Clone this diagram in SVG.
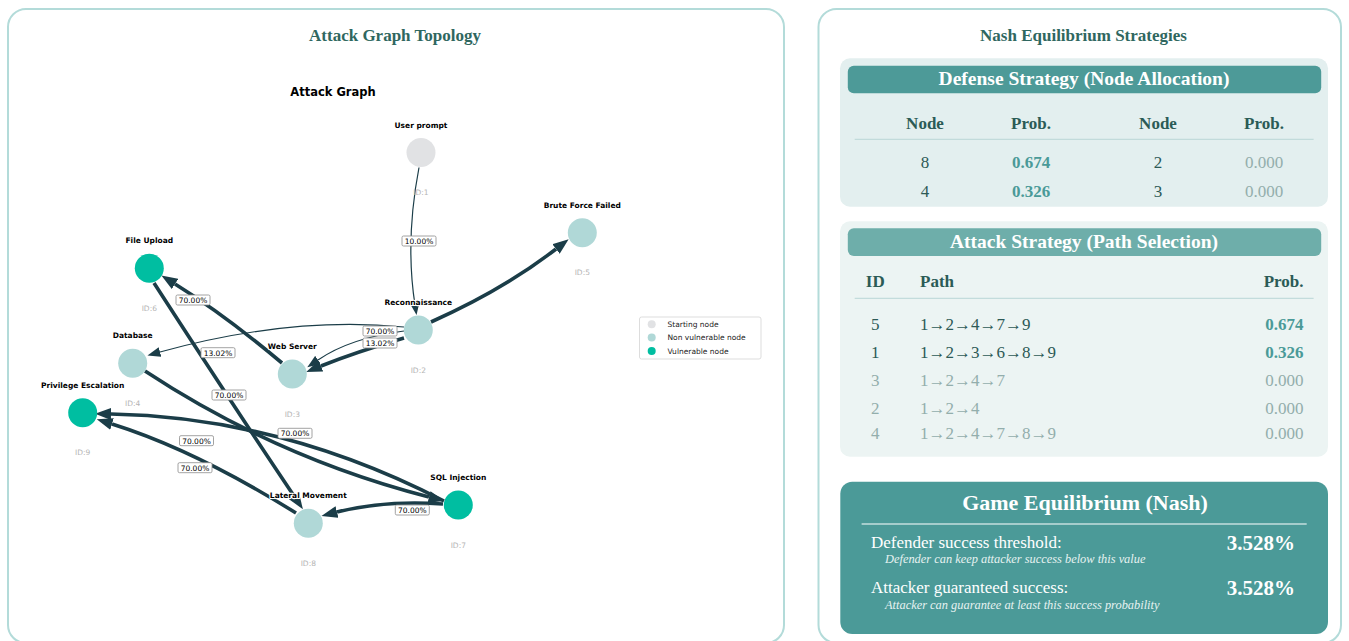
<svg xmlns="http://www.w3.org/2000/svg" width="1349" height="641" viewBox="0 0 1349 641">
  <style>
    .panel { fill: #ffffff; stroke: #b3dbd9; stroke-width: 2; }
    .ptitle { font-family: "Liberation Serif", serif; font-weight: bold; font-size: 17px; fill: #2f6760; text-anchor: middle; }
    .gtitle { font-family: "DejaVu Sans", sans-serif; font-weight: bold; font-size: 11.5px; fill: #000; text-anchor: middle; }
    .edge { fill: none; stroke: #1b3d48; }
    .thick { stroke-width: 3.6; }
    .thin { stroke-width: 1.2; }
    .start { fill: #e1e2e4; }
    .safe { fill: #b0d8d7; }
    .vuln { fill: #00bea1; }
    .nname { font-family: "DejaVu Sans", sans-serif; font-weight: bold; font-size: 7.5px; fill: #000; text-anchor: middle; paint-order: stroke; stroke: #ffffff; stroke-width: 2.2px; stroke-linejoin: round; }
    .nid { font-family: "DejaVu Sans", sans-serif; font-size: 7.5px; fill: #b4b4b4; text-anchor: middle; }
    .elbox { fill: #ffffff; stroke: #8c8c8c; stroke-width: 0.8; }
    .eltxt { font-family: "DejaVu Sans", sans-serif; font-size: 7.5px; fill: #000; text-anchor: middle; }
    .legtxt { font-family: "DejaVu Sans", sans-serif; font-size: 7.5px; fill: #222; }
    .hdr { font-family: "Liberation Serif", serif; font-weight: bold; font-size: 19.5px; fill: #ffffff; text-anchor: middle; }
    .hdr-lg { font-family: "Liberation Serif", serif; font-weight: bold; font-size: 22px; fill: #ffffff; text-anchor: middle; }
    .th { font-family: "Liberation Serif", serif; font-weight: bold; font-size: 17px; fill: #2b5b56; }
    .td { font-family: "Liberation Serif", serif; font-size: 17px; fill: #2d5a56; }
    .hi { font-family: "Liberation Serif", serif; font-weight: bold; font-size: 17px; fill: #4a9a98; }
    .lo { font-family: "Liberation Serif", serif; font-size: 17px; fill: #93aeac; }
    .mid { text-anchor: middle; }
    .end { text-anchor: end; }
    .eqlabel { font-family: "Liberation Serif", serif; font-size: 17px; fill: #ffffff; }
    .eqnote { font-family: "Liberation Serif", serif; font-style: italic; font-size: 12.4px; fill: #e6f2f1; }
    .eqval { font-family: "Liberation Serif", serif; font-weight: bold; font-size: 21px; fill: #ffffff; text-anchor: end; }
  </style>
  <defs>
    <marker id="ah-l" viewBox="0 0 16 12" refX="0" refY="6" markerWidth="16" markerHeight="12" orient="auto" markerUnits="userSpaceOnUse">
      <path d="M0,0 L16,6 L0,12 z" fill="#1b3d48"/>
    </marker>
    <marker id="ah-m" viewBox="0 0 13 10" refX="0" refY="5" markerWidth="13" markerHeight="10" orient="auto" markerUnits="userSpaceOnUse">
      <path d="M0,0 L13,5 L0,10 z" fill="#1b3d48"/>
    </marker>
    <marker id="ah-s" viewBox="0 0 10 8" refX="0" refY="4" markerWidth="10" markerHeight="8" orient="auto" markerUnits="userSpaceOnUse">
      <path d="M0,0 L10,4 L0,8 z" fill="#1b3d48"/>
    </marker>
  </defs>

  <rect width="1349" height="641" fill="#ffffff"/>

  <!-- Left panel: attack graph -->
  <rect class="panel" x="8" y="9" width="776" height="634" rx="18"/>
  <text class="ptitle" x="395" y="41">Attack Graph Topology</text>
  <text class="gtitle" x="333" y="96">Attack Graph</text>

  <g id="connectors">
    <!-- 1 -> 2 -->
    <path class="edge thin" d="M419,167.5 Q405,241 415,305" marker-end="url(#ah-s)"/>
    <!-- 2 -> 5 -->
    <path class="edge thick" d="M431,322 Q503,290 556,249" marker-end="url(#ah-l)"/>
    <!-- 2 -> 3 -->
    <path class="edge thick" d="M404,338 Q356,352 321,366" marker-end="url(#ah-l)"/>
    <path class="edge thin" d="M404,331 Q350,338 318,360" marker-end="url(#ah-m)"/>
    <!-- 2 -> 4 -->
    <path class="edge thin" d="M404,327 Q290,316 160,352" marker-end="url(#ah-m)"/>
    <!-- 3 -> 6 -->
    <path class="edge thick" d="M282,363 Q225,315 175,284" marker-end="url(#ah-l)"/>
    <!-- 6 -> 8 -->
    <path class="edge thick" d="M154,283 Q225,393 294,496" marker-end="url(#ah-l)"/>
    <!-- 4 -> 7 -->
    <path class="edge thick" d="M145,371 Q277,458 429,497" marker-end="url(#ah-l)"/>
    <!-- 7 -> 9 -->
    <path class="edge thick" d="M444,501 Q281,417 111,414" marker-end="url(#ah-l)"/>
    <!-- 8 -> 9 -->
    <path class="edge thick" d="M296,513 Q195,450 112,424" marker-end="url(#ah-l)"/>
    <!-- 7 -> 8 -->
    <path class="edge thick" d="M443,504 Q385,500 337,512" marker-end="url(#ah-l)"/>
  </g>

  <g id="node-1">
    <circle class="start" cx="421" cy="152.5" r="14.5"/>
    <text class="nname" x="421" y="128">User prompt</text>
    <text class="nid" x="421" y="195">ID:1</text>
  </g>
  <g id="node-2">
    <circle class="safe" cx="418.3" cy="330" r="14.5"/>
    <text class="nname" x="418.3" y="305">Reconnaissance</text>
    <text class="nid" x="418.3" y="372.5">ID:2</text>
  </g>
  <g id="node-3">
    <circle class="safe" cx="292.3" cy="374" r="14.5"/>
    <text class="nname" x="292.3" y="349">Web Server</text>
    <text class="nid" x="292.3" y="416.5">ID:3</text>
  </g>
  <g id="node-4">
    <circle class="safe" cx="132.7" cy="363.3" r="14.5"/>
    <text class="nname" x="132.7" y="338.3">Database</text>
    <text class="nid" x="132.7" y="405.8">ID:4</text>
  </g>
  <g id="node-5">
    <circle class="safe" cx="582.3" cy="232.7" r="14.5"/>
    <text class="nname" x="582.3" y="207.7">Brute Force Failed</text>
    <text class="nid" x="582.3" y="275.2">ID:5</text>
  </g>
  <g id="node-6">
    <circle class="vuln" cx="149.3" cy="268.3" r="14.5"/>
    <text class="nname" x="149.3" y="243.3">File Upload</text>
    <text class="nid" x="149.3" y="310.8">ID:6</text>
  </g>
  <g id="node-7">
    <circle class="vuln" cx="458.3" cy="505" r="14.5"/>
    <text class="nname" x="458.3" y="480">SQL Injection</text>
    <text class="nid" x="458.3" y="547.5">ID:7</text>
  </g>
  <g id="node-8">
    <circle class="safe" cx="308.3" cy="523.3" r="14.5"/>
    <text class="nname" x="308.3" y="498.3">Lateral Movement</text>
    <text class="nid" x="308.3" y="565.8">ID:8</text>
  </g>
  <g id="node-9">
    <circle class="vuln" cx="82.7" cy="412.7" r="14.5"/>
    <text class="nname" x="82.7" y="387.7">Privilege Escalation</text>
    <text class="nid" x="82.7" y="455.2">ID:9</text>
  </g>

  <g id="edge-labels">
    <rect class="elbox" x="402" y="236" width="34" height="10" rx="1.5"/>
    <text class="eltxt" x="419" y="244">10.00%</text>
    <rect class="elbox" x="176" y="295" width="34" height="10" rx="1.5"/>
    <text class="eltxt" x="193" y="303">70.00%</text>
    <rect class="elbox" x="201" y="347.7" width="34" height="10" rx="1.5"/>
    <text class="eltxt" x="218" y="355.7">13.02%</text>
    <rect class="elbox" x="363" y="326" width="34" height="10" rx="1.5"/>
    <text class="eltxt" x="380" y="334">70.00%</text>
    <rect class="elbox" x="363" y="338" width="34" height="10" rx="1.5"/>
    <text class="eltxt" x="380" y="346">13.02%</text>
    <rect class="elbox" x="212" y="390" width="34" height="10" rx="1.5"/>
    <text class="eltxt" x="229" y="398">70.00%</text>
    <rect class="elbox" x="278" y="428.3" width="34" height="10" rx="1.5"/>
    <text class="eltxt" x="295" y="436.3">70.00%</text>
    <rect class="elbox" x="179.5" y="435.7" width="34" height="10" rx="1.5"/>
    <text class="eltxt" x="196.5" y="443.7">70.00%</text>
    <rect class="elbox" x="178" y="462.7" width="34" height="10" rx="1.5"/>
    <text class="eltxt" x="195" y="470.7">70.00%</text>
    <rect class="elbox" x="395.3" y="505" width="34" height="10" rx="1.5"/>
    <text class="eltxt" x="412.3" y="513">70.00%</text>
  </g>

  <g id="legend">
    <rect x="639.5" y="317" width="121.5" height="42" rx="2" fill="#ffffff" stroke="#d4d4d4" stroke-width="0.8"/>
    <circle class="start" cx="651.7" cy="324.3" r="4"/>
    <circle class="safe" cx="651.7" cy="337.6" r="4"/>
    <circle class="vuln" cx="651.7" cy="351" r="4"/>
    <text class="legtxt" x="667.5" y="327">Starting node</text>
    <text class="legtxt" x="667.5" y="340.3">Non vulnerable node</text>
    <text class="legtxt" x="667.5" y="353.7">Vulnerable node</text>
  </g>

  <!-- Right panel: equilibrium strategies -->
  <rect class="panel" x="818.5" y="9" width="522.5" height="634" rx="18"/>
  <text class="ptitle" x="1083.5" y="41">Nash Equilibrium Strategies</text>

  <g id="defense-strategy">
    <rect x="840" y="58.3" width="488" height="148.4" rx="10" fill="#e3efef"/>
    <rect x="847.8" y="65.7" width="473.4" height="27.6" rx="6" fill="#4d9a98"/>
    <text class="hdr" x="1084" y="85">Defense Strategy (Node Allocation)</text>
    <text class="th mid" x="925" y="129">Node</text>
    <text class="th mid" x="1031" y="129">Prob.</text>
    <text class="th mid" x="1158" y="129">Node</text>
    <text class="th mid" x="1264" y="129">Prob.</text>
    <line x1="854.7" y1="139.3" x2="1313.6" y2="139.3" stroke="#b9d6d6" stroke-width="1"/>
    <text class="td mid" x="925" y="168">8</text>
    <text class="hi mid" x="1031" y="168">0.674</text>
    <text class="td mid" x="1158" y="168">2</text>
    <text class="lo mid" x="1264" y="168">0.000</text>
    <text class="td mid" x="925" y="196.5">4</text>
    <text class="hi mid" x="1031" y="196.5">0.326</text>
    <text class="td mid" x="1158" y="196.5">3</text>
    <text class="lo mid" x="1264" y="196.5">0.000</text>
  </g>

  <g id="attack-strategy">
    <rect x="840" y="221.2" width="488" height="235.5" rx="10" fill="#ecf4f3"/>
    <rect x="847.8" y="228.3" width="473.4" height="27.7" rx="6" fill="#6eaeaa"/>
    <text class="hdr" x="1084" y="248">Attack Strategy (Path Selection)</text>
    <text class="th mid" x="875.3" y="286.5">ID</text>
    <text class="th" x="920" y="286.5">Path</text>
    <text class="th end" x="1303.5" y="286.5">Prob.</text>
    <line x1="854.7" y1="298.3" x2="1313.6" y2="298.3" stroke="#b9d6d6" stroke-width="1"/>
    <text class="td mid" x="875.3" y="329.5">5</text>
    <text class="td" x="920" y="329.5">1→2→4→7→9</text>
    <text class="hi end" x="1303.5" y="329.5">0.674</text>
    <text class="td mid" x="875.3" y="357.5">1</text>
    <text class="td" x="920" y="357.5">1→2→3→6→8→9</text>
    <text class="hi end" x="1303.5" y="357.5">0.326</text>
    <text class="lo mid" x="875.3" y="385.5">3</text>
    <text class="lo" x="920" y="385.5">1→2→4→7</text>
    <text class="lo end" x="1303.5" y="385.5">0.000</text>
    <text class="lo mid" x="875.3" y="413.5">2</text>
    <text class="lo" x="920" y="413.5">1→2→4</text>
    <text class="lo end" x="1303.5" y="413.5">0.000</text>
    <text class="lo mid" x="875.3" y="438.5">4</text>
    <text class="lo" x="920" y="438.5">1→2→4→7→8→9</text>
    <text class="lo end" x="1303.5" y="438.5">0.000</text>
  </g>

  <g id="game-equilibrium">
    <rect x="840.3" y="481.7" width="487.7" height="152.3" rx="12" fill="#4b9a98"/>
    <text class="hdr-lg" x="1085" y="510">Game Equilibrium (Nash)</text>
    <line x1="861.6" y1="524" x2="1306.7" y2="524" stroke="#ffffff" stroke-width="1.2"/>
    <text class="eqlabel" x="871" y="548">Defender success threshold:</text>
    <text class="eqnote" x="885" y="562.5">Defender can keep attacker success below this value</text>
    <text class="eqval" x="1295" y="550">3.528%</text>
    <text class="eqlabel" x="871" y="593">Attacker guaranteed success:</text>
    <text class="eqnote" x="885" y="609">Attacker can guarantee at least this success probability</text>
    <text class="eqval" x="1295" y="595">3.528%</text>
  </g>
</svg>
